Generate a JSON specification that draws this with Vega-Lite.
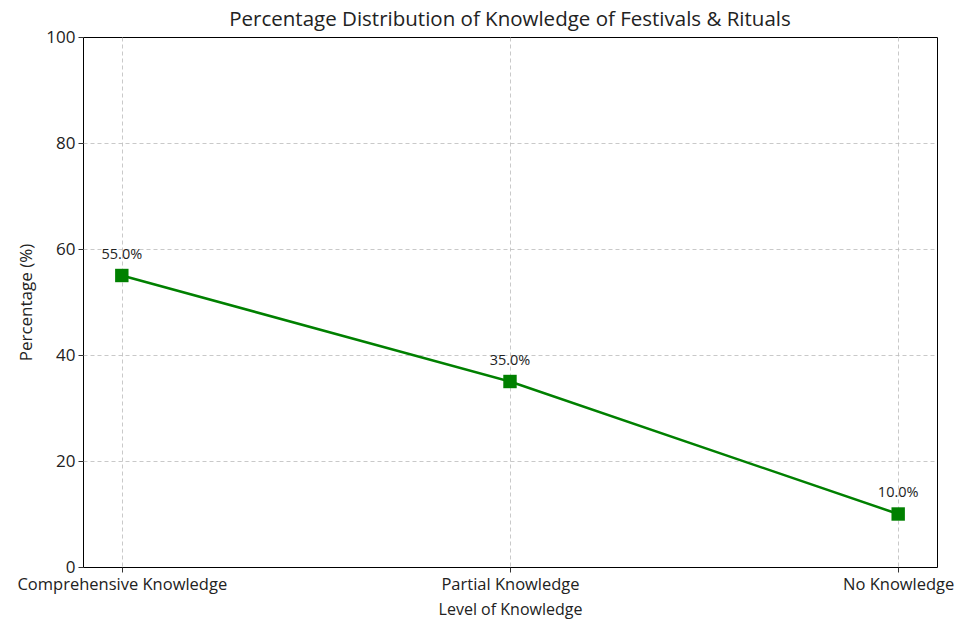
{
  "$schema": "https://vega.github.io/schema/vega-lite/v6.json",
  "width": 854,
  "height": 530,
  "autosize": "none",
  "padding": {"left": 83, "top": 37, "right": 23, "bottom": 52},
  "background": "white",
  "config": {
    "font": "Open Sans",
    "view": {"stroke": "black", "strokeWidth": 1},
    "axis": {
      "labelFont": "Open Sans", "titleFont": "Open Sans",
      "labelFontSize": 17, "titleFontSize": 17,
      "labelColor": "#222", "titleColor": "#222",
      "titleFontWeight": "normal",
      "domain": false,
      "labelLimit": 0,
      "tickColor": "#333", "tickSize": 5, "tickWidth": 1,
      "grid": true, "gridColor": "#bbbbbb", "gridDash": [4, 3],
      "labelPadding": 4
    }
  },
  "title": {
    "text": "Percentage Distribution of Knowledge of Festivals & Rituals",
    "fontSize": 20.5, "fontWeight": "normal", "font": "Open Sans", "color": "#222", "offset": -2
  },
  "data": {
    "values": [
      {"level": "Comprehensive Knowledge", "pct": 55},
      {"level": "Partial Knowledge", "pct": 35},
      {"level": "No Knowledge", "pct": 10}
    ]
  },
  "encoding": {
    "x": {
      "field": "level", "type": "ordinal", "sort": null,
      "scale": {"type": "point", "padding": 0.1},
      "axis": {"title": "Level of Knowledge", "titleFontSize": 16, "labelFontSize": 16.5, "labelAngle": 0, "labelPadding": 4,
               "titleBaseline": "alphabetic", "titleY": 47, "gridOpacity": 0.8}
    },
    "y": {
      "field": "pct", "type": "quantitative",
      "scale": {"domain": [0, 100], "nice": false},
      "axis": {
        "title": "Percentage (%)", "values": [0, 20, 40, 60, 80, 100], "titlePadding": 10, "labelPadding": 3,
        "gridOpacity": {"condition": {"test": "datum.value == 100 || datum.value == 0", "value": 0}, "value": 0.8}
      }
    }
  },
  "layer": [
    {"mark": {"type": "line", "color": "#008000", "strokeWidth": 2.5}},
    {"mark": {"type": "point", "shape": "square", "filled": true, "color": "#008000", "size": 180, "opacity": 1}},
    {
      "mark": {"type": "text", "dy": -21, "fontSize": 14.5, "color": "#222", "font": "Open Sans",
               "text": {"expr": "format(datum.pct, '.1f') + '%'"}}
    }
  ]
}
